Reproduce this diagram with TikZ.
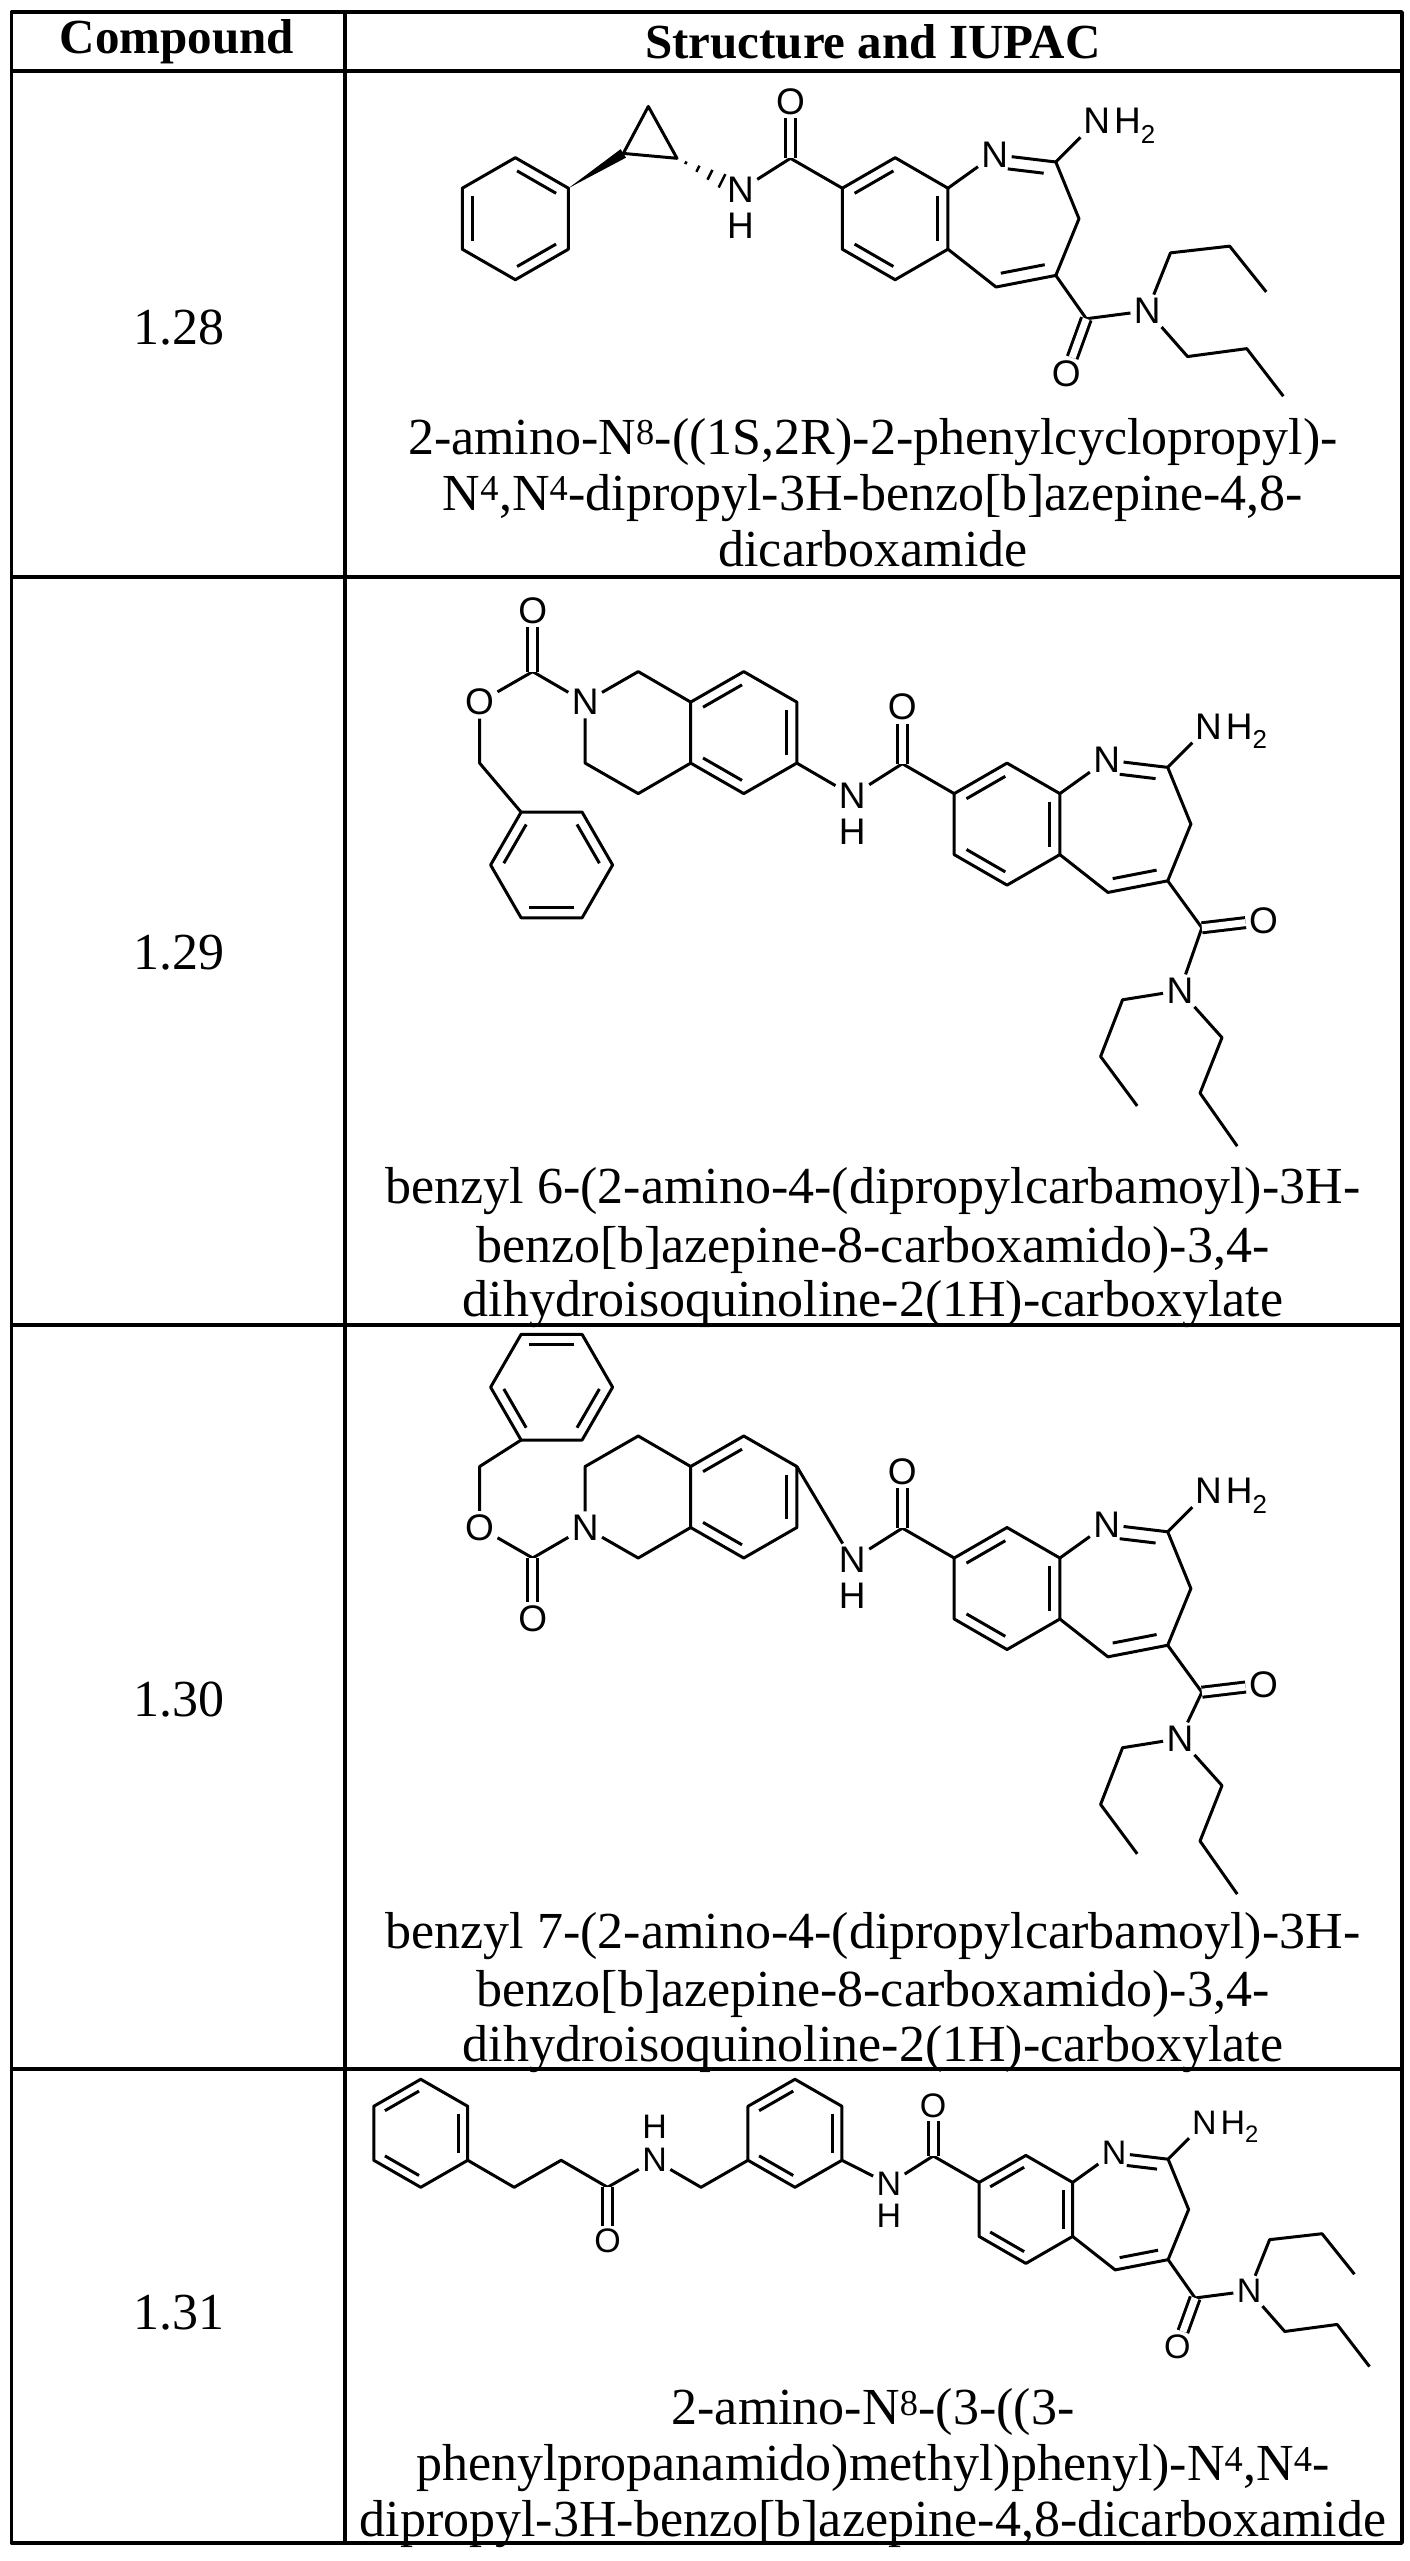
\documentclass[tikz,border=0pt]{standalone}
\usepackage{fontspec}
\setmainfont{Liberation Serif}
\newfontfamily\sansf{Liberation Sans}
\usetikzlibrary{calc}
\def\atomsz{37}
\def\phy{-1.17}
\tikzset{
  atom/.style={font=\sansf\fontsize{\atomsz}{\atomsz}\selectfont, inner sep=2pt},
  dbl/.style={double, double distance=7pt},
  txt/.style={font=\fontsize{52}{58}\selectfont, text height=40pt, text depth=8pt, inner sep=0pt},
  hdr/.style={font=\bfseries\fontsize{49}{55}\selectfont, inner sep=0pt},
  grid/.style={line width=3.5pt}
}
\newcommand\ringdb[3]{\draw[shorten <=2pt,shorten >=2pt] ($(#3)!0.8!(#1)$)--($(#3)!0.8!(#2)$);}
\newcommand\corebase{%
\coordinate (a) at (0,0);
\coordinate (b) at (0.866,0.5);
\coordinate (c) at (1.732,0);
\coordinate (d) at (1.732,-1);
\coordinate (e) at (0.866,-1.5);
\coordinate (f) at (0,-1);
\coordinate (bc) at (0.866,-0.5);
\node[atom] (N1) at (2.5,0.55) {N};
\coordinate (C2) at (3.5,0.43);
\coordinate (C3) at (3.88,-0.5);
\coordinate (C4) at (3.5,-1.43);
\coordinate (C5) at (2.52,-1.62);
\coordinate (az) at (2.75,-0.52);
\node[atom] (NA) at (4.17,1.1) {N};
\node[atom,anchor=base west,inner sep=0pt] (NAH) at ([xshift=-1pt]NA.base east) {H\textsubscript{2}};
\coordinate (Ck) at (-0.85,0.49);
\node[atom] (Ok) at (-0.85,1.42) {O};
\node[atom] (NH) at (-1.67,-0.03) {N};
\node[atom] (NHh) at (-1.67,-0.62) {H};
\draw (a)--(b)--(c)--(d)--(e)--(f)--cycle;
\draw (c)--(N1);
\draw (N1)--(C2)--(C3)--(C4)--(C5)--(d);
\draw (C2)--(NA);
\draw (NH)--(Ck)--(a);
\draw[dbl] (Ck)--(Ok);
\ringdb{a}{b}{bc}\ringdb{c}{d}{bc}\ringdb{e}{f}{bc}
\draw[shorten <=10pt,shorten >=3pt] ($(az)!0.8!(N1)$)--($(az)!0.8!(C2)$);
\ringdb{C4}{C5}{az}}
\newcommand\amideA{%
\coordinate (Cm) at (4.0,-2.14);
\node[atom] (Om) at (3.67,-3.05) {O};
\node[atom] (Nm) at (5.0,-2.01) {N};
\draw (C4)--(Cm)--(Nm);
\draw[dbl] (Cm)--(Om);
\coordinate (p1) at (5.38,-1.06);\coordinate (p2) at (6.35,-0.95);\coordinate (p3) at (6.95,-1.7);
\coordinate (q1) at (5.66,-2.76);\coordinate (q2) at (6.63,-2.63);\coordinate (q3) at (7.23,-3.41);
\draw (Nm)--(p1)--(p2)--(p3);
\draw (Nm)--(q1)--(q2)--(q3);}
% #1 = upward shift of N and chains
\newcommand\amideB[1]{%
\coordinate (Cm) at (4.06,-2.2);
\node[atom] (Om) at (5.07,-2.08) {O};
\begin{scope}[shift={(0,#1)}]
\node[atom] (Nm) at (3.70,-3.23) {N};
\coordinate (p1) at (2.76,-3.38);\coordinate (p2) at (2.40,-4.31);\coordinate (p3) at (3.0,-5.12);
\coordinate (q1) at (4.39,-4.0);\coordinate (q2) at (4.03,-4.91);\coordinate (q3) at (4.64,-5.78);
\end{scope}
\draw (C4)--(Cm)--(Nm);
\draw[dbl] (Cm)--(Om);
\draw (Nm)--(p1)--(p2)--(p3);
\draw (Nm)--(q1)--(q2)--(q3);}
\newcommand\leftA{%
\coordinate (cp1) at (-2.71,0.49);\coordinate (cp2) at (-3.59,0.57);\coordinate (cp3) at (-3.18,1.34);
\draw (cp1)--(cp2)--(cp3)--cycle;
\foreach \t/\w in {0.14/1.5pt,0.33/3.5pt,0.52/5.5pt,0.71/7.5pt}{%
  \path ($(cp1)!\t!(NH)$) coordinate (hh);
  \draw[line width=2.5pt] ($(hh)!\w!90:(NH)$)--($(hh)!\w!-90:(NH)$);}
\coordinate (pc) at (-5.36,-0.5);
\coordinate (ph1) at (-4.49,0);\coordinate (ph2) at (-5.36,0.5);\coordinate (ph3) at (-6.23,0);
\coordinate (ph4) at (-6.23,-1);\coordinate (ph5) at (-5.36,-1.5);\coordinate (ph6) at (-4.49,-1);
\fill (ph1)--($(cp2)!5pt!90:(ph1)$)--($(cp2)!5pt!-90:(ph1)$)--cycle;
\draw (ph1)--(ph2)--(ph3)--(ph4)--(ph5)--(ph6)--cycle;
\ringdb{ph1}{ph2}{pc}\ringdb{ph3}{ph4}{pc}\ringdb{ph5}{ph6}{pc}}
\newcommand\leftB{%
\coordinate (tc) at (-3.45,1.0);
\coordinate (t1) at (-2.58,1.5);\coordinate (t2) at (-3.45,2.0);\coordinate (t3) at (-4.32,1.5);
\coordinate (t4) at (-4.32,0.5);\coordinate (t5) at (-3.45,0);\coordinate (t6) at (-2.58,0.5);
\coordinate (s2) at (-5.18,2.0);\node[atom] (Ns) at (-6.05,1.5) {N};
\coordinate (s4) at (-6.05,0.5);\coordinate (s5) at (-5.18,0);
\coordinate (Cc) at (-6.91,2.0);\node[atom] (Oc) at (-6.91,3.0) {O};
\node[atom] (Oe) at (-7.78,1.5) {O};\coordinate (Bz) at (-7.78,0.5);
\coordinate (rc) at (-6.6,\phy);
\coordinate (r0) at ({-5.6},{\phy});\coordinate (r60) at ({-6.1},{\phy+0.866});\coordinate (r120) at ({-7.1},{\phy+0.866});
\coordinate (r180) at ({-7.6},{\phy});\coordinate (r240) at ({-7.1},{\phy-0.866});\coordinate (r300) at ({-6.1},{\phy-0.866});
\draw (t1)--(t2)--(t3)--(t4)--(t5)--(t6)--cycle;
\draw (t6)--(NH);
\draw (t3)--(s2)--(Ns)--(s4)--(s5)--(t4);
\draw (Ns)--(Cc)--(Oe)--(Bz)--(r120);
\draw[dbl] (Cc)--(Oc);
\draw (r0)--(r60)--(r120)--(r180)--(r240)--(r300)--cycle;
\ringdb{t3}{t2}{tc}\ringdb{t1}{t6}{tc}\ringdb{t4}{t5}{tc}
\ringdb{r120}{r180}{rc}\ringdb{r0}{r60}{rc}\ringdb{r240}{r300}{rc}}
\newcommand\leftC{%
\coordinate (mc) at (-3.41,0.91);
\coordinate (m30) at (-2.54,1.41);\coordinate (m90) at (-3.41,1.91);\coordinate (m150) at (-4.28,1.41);
\coordinate (m210) at (-4.28,0.41);\coordinate (m270) at (-3.41,-0.09);\coordinate (m330) at (-2.54,0.41);
\coordinate (x1) at (-5.15,-0.09);
\node[atom] (Nb) at (-6.01,0.41) {N};\node[atom] (Hb) at (-6.01,1.03) {H};
\coordinate (Ca) at (-6.88,-0.09);\node[atom] (Oa) at (-6.88,-1.09) {O};
\coordinate (y1) at (-7.74,0.41);\coordinate (y2) at (-8.61,-0.09);
\coordinate (rc) at (-10.34,0.91);
\coordinate (r330) at (-9.47,0.41);\coordinate (r30) at (-9.47,1.41);\coordinate (r90) at (-10.34,1.91);
\coordinate (r150) at (-11.21,1.41);\coordinate (r210) at (-11.21,0.41);\coordinate (r270) at (-10.34,-0.09);
\draw (m30)--(m90)--(m150)--(m210)--(m270)--(m330)--cycle;
\draw (m330)--(NH);
\draw (m210)--(x1)--(Nb)--(Ca)--(y1)--(y2)--(r330);
\draw[dbl] (Ca)--(Oa);
\draw (r330)--(r30)--(r90)--(r150)--(r210)--(r270)--cycle;
\ringdb{m150}{m90}{mc}\ringdb{m30}{m330}{mc}\ringdb{m210}{m270}{mc}
\ringdb{r330}{r30}{rc}\ringdb{r90}{r150}{rc}\ringdb{r210}{r270}{rc}}
\begin{document}
\begin{tikzpicture}[x=1pt,y=-1pt,line width=3pt,line join=round]
\useasboundingbox[fill=white] (0,0) rectangle (1410,2561);
% table
\draw[grid] (11.5,12) rectangle (1402,2543);
\draw[grid] (11.5,71)--(1402,71);
\draw[grid] (11.5,577)--(1402,577);
\draw[grid] (11.5,1325)--(1402,1325);
\draw[grid] (11.5,2069)--(1402,2069);
\draw[grid] (345,12)--(345,2543);
\node[hdr] (h1) at (177,42) {Compound};
\node[hdr] (h2) at (873,42) {Structure and IUPAC};
\node[txt] (c1) at (179,328) {1.28};
\node[txt] (c2) at (179,953) {1.29};
\node[txt] (c3) at (179,1700) {1.30};
\node[txt] (c4) at (179,2313) {1.31};
% texts
\node[txt] (a1) at (873,438) {2-amino-N\textsuperscript{8}-((1S,2R)-2-phenylcyclopropyl)-};
\node[txt] (a2) at (873,494) {N\textsuperscript{4},N\textsuperscript{4}-dipropyl-3H-benzo[b]azepine-4,8-};
\node[txt] (a3) at (873,550) {dicarboxamide};
\node[txt] (b1) at (873,1187) {benzyl 6-(2-amino-4-(dipropylcarbamoyl)-3H-};
\node[txt] (b2) at (873,1246) {benzo[b]azepine-8-carboxamido)-3,4-};
\node[txt] (b3) at (873,1300) {dihydroisoquinoline-2(1H)-carboxylate};
\node[txt] (d1) at (873,1932) {benzyl 7-(2-amino-4-(dipropylcarbamoyl)-3H-};
\node[txt] (d2) at (873,1990) {benzo[b]azepine-8-carboxamido)-3,4-};
\node[txt] (d3) at (873,2045) {dihydroisoquinoline-2(1H)-carboxylate};
\node[txt] (e1) at (873,2408) {2-amino-N\textsuperscript{8}-(3-((3-};
\node[txt] (e2) at (873,2464) {phenylpropanamido)methyl)phenyl)-N\textsuperscript{4},N\textsuperscript{4}-};
\node[txt] (e3) at (873,2520) {dipropyl-3H-benzo[b]azepine-4,8-dicarboxamide};
% molecules
\begin{scope}[shift={(842.3,188.2)},x=61pt,y=61pt,name prefix=m1-]
\corebase\amideA\leftA
\end{scope}
\begin{scope}[shift={(954.2,793.6)},x=61pt,y=61pt,name prefix=m2-]
\corebase\amideB{0}\leftB
\end{scope}
\begin{scope}[shift={(954.2,1558)},x=61pt,y=61pt,name prefix=m3-]
\corebase\amideB{0.27}
\def\phy{-0.8}
\begin{scope}[shift={(0,2)},yscale=-1]\leftB\end{scope}
\end{scope}
\begin{scope}[shift={(979.1,2182.4)},x=54pt,y=54pt,name prefix=m4-]
\def\atomsz{34}
\corebase\amideA\leftC
\end{scope}
\end{tikzpicture}
\end{document}
